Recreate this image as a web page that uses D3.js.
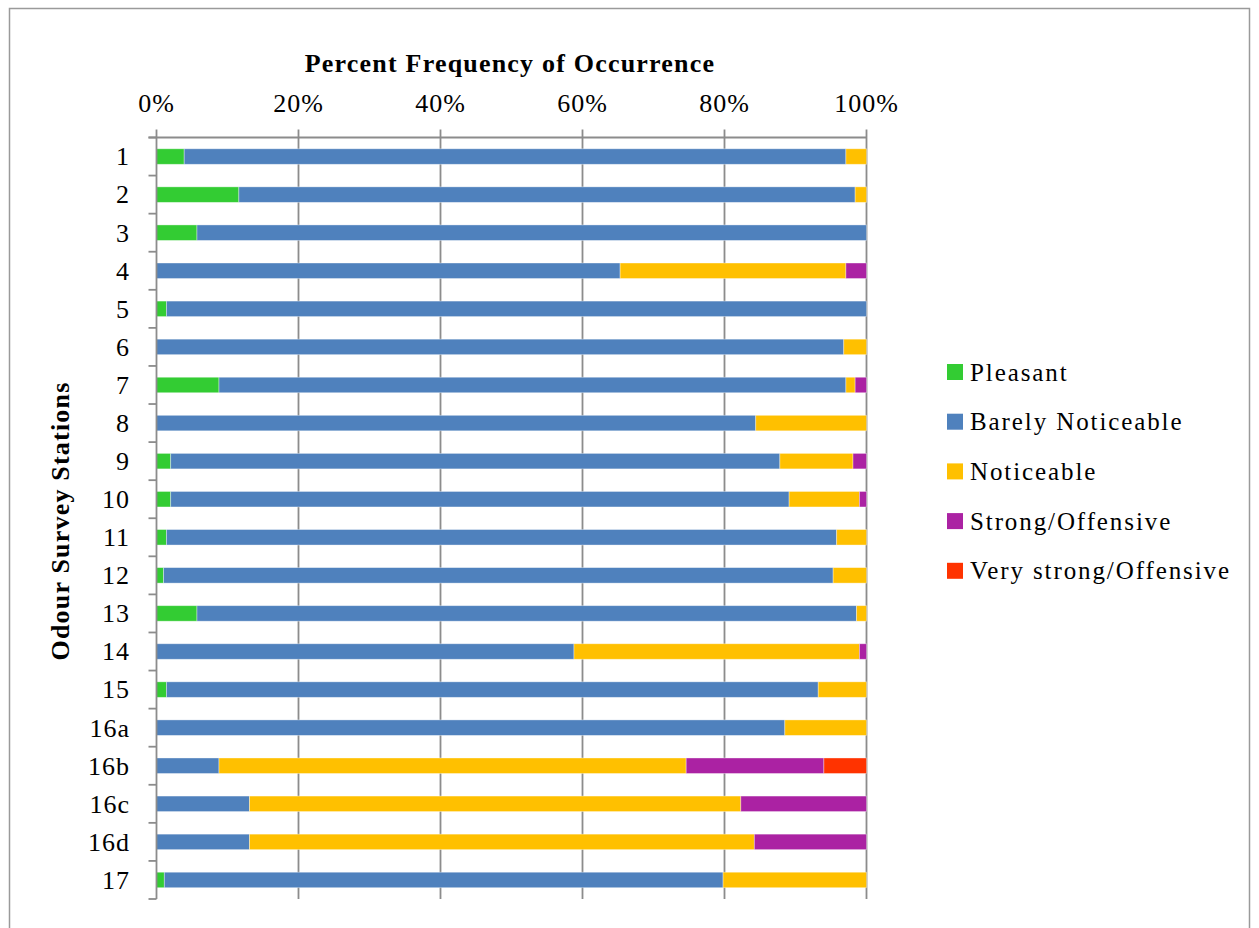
<!DOCTYPE html>
<html>
<head>
<meta charset="utf-8">
<script src="https://cdn.jsdelivr.net/npm/d3@7"></script>
<style>
  body { margin: 0; background: #fff; }
  text { font-family: "Liberation Serif", "Times New Roman", serif; fill: #000; }
</style>
</head>
<body>
<svg id="chart" width="1259" height="928"></svg>
<script>
// Stations and percent share of each odour class
const stations = ["1","2","3","4","5","6","7","8","9","10","11","12","13","14","15","16a","16b","16c","16d","17"];
const pleasant   = [3.9, 11.6, 5.7, 0,    1.4, 0,    8.8, 0,    2.0, 2.0, 1.4, 1.0, 5.7, 0,    1.4, 0,    0,    0,    0,    1.1];
const barely     = [93.2, 86.8, 94.3, 65.3, 98.6, 96.8, 88.3, 84.4, 85.8, 87.1, 94.4, 94.3, 92.9, 58.8, 91.8, 88.5, 8.8, 13.1, 13.1, 78.7];
const noticeable = [2.9, 1.6, 0,    31.8, 0,    3.2, 1.3, 15.6, 10.3, 9.9, 4.2, 4.7, 1.4, 40.2, 6.8, 11.5, 65.8, 69.2, 71.1, 20.2];
const strong     = [0,   0,   0,    2.9,  0,    0,   1.6, 0,    1.9,  1.0, 0,   0,   0,   1.0,  0,   0,    19.4, 17.7, 15.8, 0];
const veryStrong = [0,   0,   0,    0,    0,    0,   0,   0,    0,    0,   0,   0,   0,   0,    0,   0,    6.0,  0,    0,    0];

const seriesNames = ["Pleasant", "Barely Noticeable", "Noticeable", "Strong/Offensive", "Very strong/Offensive"];
const seriesColors = ["#33cc33", "#4f81bd", "#ffc000", "#ab22a3", "#ff3300"];
const xTicks = [0, 20, 40, 60, 80, 100];

const svg = d3.select("#chart");

// outer frame
svg.append("rect")
    .attr("x", 9.5).attr("y", 8.5)
    .attr("width", 1240).attr("height", 940)
    .attr("fill", "none").attr("stroke", "#9a9a9a").attr("stroke-width", 1.5);

const plotLeft = 156.5, plotRight = 866.5, plotTop = 137.5, plotBottom = 899;

const x = d3.scaleLinear().domain([0, 100]).range([plotLeft, plotRight]);
const y = d3.scaleBand().domain(stations).range([plotTop, plotBottom])
    .paddingInner(0.593).paddingOuter(0.2965);

// build rows for stacking
const rows = stations.map((s, i) => ({
    station: s,
    "Pleasant": pleasant[i],
    "Barely Noticeable": barely[i],
    "Noticeable": noticeable[i],
    "Strong/Offensive": strong[i],
    "Very strong/Offensive": veryStrong[i]
}));
const stacked = d3.stack().keys(seriesNames)(rows);

// vertical gridlines
svg.append("g").selectAll("line")
    .data(xTicks.slice(1))
    .enter().append("line")
    .attr("x1", d => x(d)).attr("x2", d => x(d))
    .attr("y1", plotTop - 8).attr("y2", plotBottom)
    .attr("stroke", "#8c8c8c").attr("stroke-width", 1.8);

// bars
svg.append("g").selectAll("g")
    .data(stacked)
    .enter().append("g")
    .attr("fill", (d, i) => seriesColors[i])
    .selectAll("rect")
    .data(d => d.filter(p => p[1] - p[0] > 0))
    .enter().append("rect")
    .attr("x", d => x(d[0]))
    .attr("y", d => y(d.data.station))
    .attr("width", d => x(d[1]) - x(d[0]))
    .attr("height", y.bandwidth())
    .attr("stroke", "rgba(255,255,255,0.45)")
    .attr("stroke-width", 0.8);

// top axis line and y axis line
svg.append("line")
    .attr("x1", plotLeft - 8).attr("x2", plotRight)
    .attr("y1", plotTop).attr("y2", plotTop)
    .attr("stroke", "#8c8c8c").attr("stroke-width", 1.8);
svg.append("line")
    .attr("x1", plotLeft).attr("x2", plotLeft)
    .attr("y1", plotTop - 8).attr("y2", plotBottom)
    .attr("stroke", "#8c8c8c").attr("stroke-width", 1.8);

// category boundary ticks on y axis
const boundaries = stations.map(s => y(s) - y.step() * y.paddingInner() / 2).concat([plotBottom]);
svg.append("g").selectAll("line")
    .data(boundaries)
    .enter().append("line")
    .attr("x1", plotLeft - 8).attr("x2", plotLeft)
    .attr("y1", d => d).attr("y2", d => d)
    .attr("stroke", "#8c8c8c").attr("stroke-width", 1.8);

// x tick labels
svg.append("g").selectAll("text")
    .data(xTicks)
    .enter().append("text")
    .attr("x", d => x(d))
    .attr("y", 111.5)
    .attr("text-anchor", "middle")
    .attr("font-size", 26)
    .attr("letter-spacing", 1)
    .text(d => d + "%");

// y tick labels
svg.append("g").selectAll("text")
    .data(stations)
    .enter().append("text")
    .attr("x", 130)
    .attr("y", d => y(d) + y.bandwidth() / 2)
    .attr("dy", "0.34em")
    .attr("text-anchor", "end")
    .attr("font-size", 26)
    .attr("letter-spacing", 1)
    .text(d => d);

// titles
svg.append("text")
    .attr("x", 510).attr("y", 71.5)
    .attr("text-anchor", "middle")
    .attr("font-size", 26).attr("font-weight", "bold")
    .attr("letter-spacing", 1.2)
    .text("Percent Frequency of Occurrence");

svg.append("text")
    .attr("transform", "translate(69,521) rotate(-90)")
    .attr("text-anchor", "middle")
    .attr("font-size", 26).attr("font-weight", "bold")
    .attr("letter-spacing", 1.2)
    .text("Odour Survey Stations");

// legend
const legend = svg.append("g").selectAll("g")
    .data(seriesNames)
    .enter().append("g")
    .attr("transform", (d, i) => `translate(947,${372 + i * 49.7})`);
legend.append("rect")
    .attr("x", 0).attr("y", -8)
    .attr("width", 16).attr("height", 16)
    .attr("fill", (d, i) => seriesColors[i]);
legend.append("text")
    .attr("x", 23).attr("y", 0)
    .attr("dy", "0.34em")
    .attr("font-size", 25)
    .attr("letter-spacing", 1.9)
    .text(d => d);
</script>
</body>
</html>
